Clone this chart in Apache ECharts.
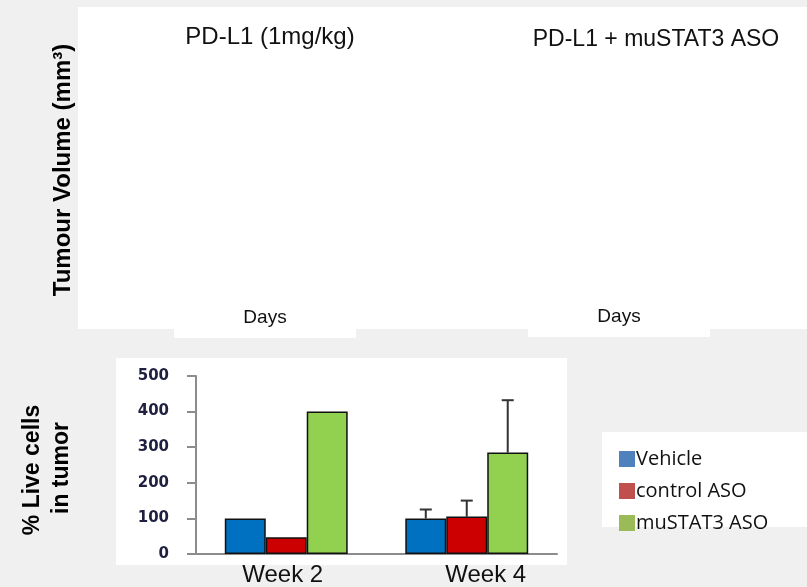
<!DOCTYPE html>
<html>
<head>
<meta charset="utf-8">
<script src="https://cdn.jsdelivr.net/npm/echarts@6/dist/echarts.min.js"></script>
<style>
  html, body { margin: 0; padding: 0; background: #f0f0f0; }
  #chart { width: 807px; height: 587px; }
</style>
</head>
<body>
<div id="chart"></div>
<script>
var weeks = ['Week 2', 'Week 4'];
var seriesNames = ['Vehicle', 'control ASO', 'muSTAT3 ASO'];
var vehicle = [100, 100];
var controlAso = [47, 105];
var mustat3Aso = [400, 285];
// upper ends of the error bars (null = none drawn)
var vehicleErr = [null, 125];
var controlAsoErr = [null, 150];
var mustat3AsoErr = [null, 432];
var yTicks = [0, 100, 200, 300, 400, 500];

var barColors = ['#0070c0', '#cc0000', '#92d050'];
var legendColors = ['#4f81bd', '#c0504d', '#9bbb59'];
var BAR_FRAC = 0.227;

var chart = echarts.init(document.getElementById('chart'));

var values = [vehicle, controlAso, mustat3Aso];
var errs = [vehicleErr, controlAsoErr, mustat3AsoErr];

var errData = [];
errs.forEach(function (arr, s) {
  arr.forEach(function (hi, i) {
    if (hi != null) errData.push([i, values[s][i], hi, s]);
  });
});

var series = seriesNames.map(function (name, s) {
  return {
    name: name,
    type: 'bar',
    barWidth: (BAR_FRAC * 100) + '%',
    barGap: '0%',
    data: values[s],
    itemStyle: { color: barColors[s], borderColor: '#111', borderWidth: 1.5 },
    z: 3
  };
});

series.push({
  type: 'custom',
  data: errData,
  encode: { x: 0, y: [1, 2] },
  z: 2,
  silent: true,
  renderItem: function (params, api) {
    var cat = api.value(0);
    var s = api.value(3);
    var base = api.coord([cat, api.value(1)]);
    var top = api.coord([cat, api.value(2)]);
    var band = api.size([1, 0])[0];
    var x = base[0] + (s - 1) * band * BAR_FRAC;
    var st = { stroke: '#333', lineWidth: 2 };
    return {
      type: 'group',
      children: [
        { type: 'line', shape: { x1: x, y1: base[1], x2: x, y2: top[1] }, style: st },
        { type: 'line', shape: { x1: x - 6, y1: top[1], x2: x + 6, y2: top[1] }, style: st }
      ]
    };
  }
});

var arial = '"Liberation Sans", Arial, sans-serif';

var option = {
  backgroundColor: '#f0f0f0',
  animation: false,
  graphic: [
    { type: 'rect', z: -10, shape: { x: 78, y: 7, width: 729, height: 322 }, style: { fill: '#fff' } },
    { type: 'rect', z: -10, shape: { x: 174, y: 328, width: 182, height: 10 }, style: { fill: '#fff' } },
    { type: 'rect', z: -10, shape: { x: 528, y: 328, width: 182, height: 9 }, style: { fill: '#fff' } },
    { type: 'rect', z: -10, shape: { x: 116, y: 358, width: 451, height: 207 }, style: { fill: '#fff' } },
    { type: 'rect', z: -10, shape: { x: 602, y: 432, width: 205, height: 95 }, style: { fill: '#fff' } },
    { type: 'text', z: 100, x: 270, y: 37,
      style: { text: 'PD-L1 (1mg/kg)', fill: '#111', font: '24px ' + arial, align: 'center', verticalAlign: 'middle' } },
    { type: 'text', z: 100, x: 656, y: 40,
      style: { text: 'PD-L1 + muSTAT3 ASO', fill: '#111', font: '23px ' + arial, align: 'center', verticalAlign: 'middle' } },
    { type: 'text', z: 100, x: 265, y: 318,
      style: { text: 'Days', fill: '#111', font: '19px ' + arial, align: 'center', verticalAlign: 'middle' } },
    { type: 'text', z: 100, x: 619, y: 317,
      style: { text: 'Days', fill: '#111', font: '19px ' + arial, align: 'center', verticalAlign: 'middle' } },
    { type: 'text', z: 100, x: 63, y: 170, rotation: Math.PI / 2,
      style: { text: 'Tumour Volume (mm³)', fill: '#000', font: 'bold 24px ' + arial, align: 'center', verticalAlign: 'middle' } },
    { type: 'text', z: 100, x: 33, y: 470, rotation: Math.PI / 2,
      style: { text: '% Live cells', fill: '#000', font: 'bold 23px ' + arial, align: 'center', verticalAlign: 'middle' } },
    { type: 'text', z: 100, x: 62, y: 468, rotation: Math.PI / 2,
      style: { text: 'in tumor', fill: '#000', font: 'bold 23px ' + arial, align: 'center', verticalAlign: 'middle' } }
  ],
  legend: {
    orient: 'vertical',
    left: 614,
    top: 444,
    itemWidth: 16,
    itemHeight: 16,
    itemGap: 12,
    icon: 'rect',
    textStyle: { fontFamily: '"Open Sans", sans-serif', fontSize: 20, color: '#111', padding: [0, 0, 0, -4] },
    data: seriesNames.map(function (n, i) {
      return { name: n, itemStyle: { color: legendColors[i], borderWidth: 0 } };
    })
  },
  grid: {
    left: 196,
    right: 250,
    top: 376,
    bottom: 31
  },
  xAxis: {
    type: 'category',
    data: weeks.map(function (w, i) {
      var pad = i === 1 ? [0, 0, 0, 38] : [0, 7, 0, 0];
      return { value: w, textStyle: { padding: pad } };
    }),
    axisLine: { lineStyle: { color: '#8c8c8c', width: 2 } },
    axisTick: { show: false },
    axisLabel: {
      margin: 9,
      color: '#111',
      fontFamily: arial,
      fontSize: 24
    }
  },
  yAxis: {
    type: 'value',
    min: yTicks[0],
    max: yTicks[yTicks.length - 1],
    interval: 100,
    axisLine: { show: true, lineStyle: { color: '#8c8c8c', width: 2 } },
    axisTick: { show: true, length: 9, lineStyle: { color: '#8c8c8c', width: 2 } },
    splitLine: { show: false },
    axisLabel: {
      margin: 27,
      color: '#1f2040',
      fontFamily: '"DejaVu Sans", Verdana, sans-serif',
      fontWeight: 'bold',
      fontSize: 15
    }
  },
  series: series
};

chart.setOption(option);

window.addEventListener('resize', function () {
  chart.resize();
});
</script>
</body>
</html>
